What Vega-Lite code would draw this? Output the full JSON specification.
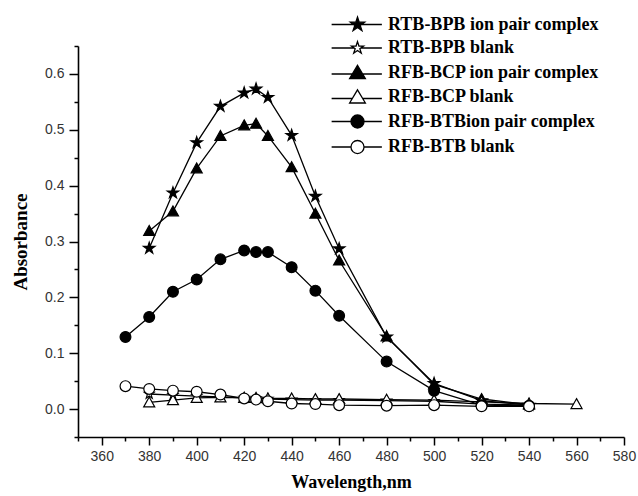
{
  "$schema": "https://vega.github.io/schema/vega-lite/v6.json",
  "width": 546,
  "height": 391,
  "autosize": "none",
  "padding": {"left": 78, "top": 46, "right": 14, "bottom": 59},
  "background": "white",
  "config": {"view": {"stroke": null}},
  "data": {"values": [
    {"Series": "RTB-BPB ion pair complex", "Wavelength": 380, "Absorbance": 0.288},
    {"Series": "RTB-BPB ion pair complex", "Wavelength": 390, "Absorbance": 0.387},
    {"Series": "RTB-BPB ion pair complex", "Wavelength": 400, "Absorbance": 0.477},
    {"Series": "RTB-BPB ion pair complex", "Wavelength": 410, "Absorbance": 0.542},
    {"Series": "RTB-BPB ion pair complex", "Wavelength": 420, "Absorbance": 0.566},
    {"Series": "RTB-BPB ion pair complex", "Wavelength": 425, "Absorbance": 0.573},
    {"Series": "RTB-BPB ion pair complex", "Wavelength": 430, "Absorbance": 0.558},
    {"Series": "RTB-BPB ion pair complex", "Wavelength": 440, "Absorbance": 0.490},
    {"Series": "RTB-BPB ion pair complex", "Wavelength": 450, "Absorbance": 0.381},
    {"Series": "RTB-BPB ion pair complex", "Wavelength": 460, "Absorbance": 0.287},
    {"Series": "RTB-BPB ion pair complex", "Wavelength": 480, "Absorbance": 0.129},
    {"Series": "RTB-BPB ion pair complex", "Wavelength": 500, "Absorbance": 0.046},
    {"Series": "RTB-BPB ion pair complex", "Wavelength": 520, "Absorbance": 0.015},
    {"Series": "RTB-BPB ion pair complex", "Wavelength": 540, "Absorbance": 0.007},
    {"Series": "RTB-BPB blank", "Wavelength": 380, "Absorbance": 0.027},
    {"Series": "RTB-BPB blank", "Wavelength": 390, "Absorbance": 0.025},
    {"Series": "RTB-BPB blank", "Wavelength": 400, "Absorbance": 0.023},
    {"Series": "RTB-BPB blank", "Wavelength": 410, "Absorbance": 0.022},
    {"Series": "RTB-BPB blank", "Wavelength": 420, "Absorbance": 0.020},
    {"Series": "RTB-BPB blank", "Wavelength": 425, "Absorbance": 0.019},
    {"Series": "RTB-BPB blank", "Wavelength": 430, "Absorbance": 0.018},
    {"Series": "RTB-BPB blank", "Wavelength": 440, "Absorbance": 0.017},
    {"Series": "RTB-BPB blank", "Wavelength": 450, "Absorbance": 0.016},
    {"Series": "RTB-BPB blank", "Wavelength": 460, "Absorbance": 0.016},
    {"Series": "RTB-BPB blank", "Wavelength": 480, "Absorbance": 0.015},
    {"Series": "RTB-BPB blank", "Wavelength": 500, "Absorbance": 0.014},
    {"Series": "RTB-BPB blank", "Wavelength": 520, "Absorbance": 0.009},
    {"Series": "RTB-BPB blank", "Wavelength": 540, "Absorbance": 0.007},
    {"Series": "RFB-BCP ion pair complex", "Wavelength": 380, "Absorbance": 0.319},
    {"Series": "RFB-BCP ion pair complex", "Wavelength": 390, "Absorbance": 0.354},
    {"Series": "RFB-BCP ion pair complex", "Wavelength": 400, "Absorbance": 0.431},
    {"Series": "RFB-BCP ion pair complex", "Wavelength": 410, "Absorbance": 0.489},
    {"Series": "RFB-BCP ion pair complex", "Wavelength": 420, "Absorbance": 0.508},
    {"Series": "RFB-BCP ion pair complex", "Wavelength": 425, "Absorbance": 0.511},
    {"Series": "RFB-BCP ion pair complex", "Wavelength": 430, "Absorbance": 0.489},
    {"Series": "RFB-BCP ion pair complex", "Wavelength": 440, "Absorbance": 0.433},
    {"Series": "RFB-BCP ion pair complex", "Wavelength": 450, "Absorbance": 0.350},
    {"Series": "RFB-BCP ion pair complex", "Wavelength": 460, "Absorbance": 0.266},
    {"Series": "RFB-BCP ion pair complex", "Wavelength": 480, "Absorbance": 0.130},
    {"Series": "RFB-BCP ion pair complex", "Wavelength": 500, "Absorbance": 0.044},
    {"Series": "RFB-BCP ion pair complex", "Wavelength": 520, "Absorbance": 0.018},
    {"Series": "RFB-BCP ion pair complex", "Wavelength": 540, "Absorbance": 0.008},
    {"Series": "RFB-BCP blank", "Wavelength": 380, "Absorbance": 0.012},
    {"Series": "RFB-BCP blank", "Wavelength": 390, "Absorbance": 0.016},
    {"Series": "RFB-BCP blank", "Wavelength": 400, "Absorbance": 0.020},
    {"Series": "RFB-BCP blank", "Wavelength": 410, "Absorbance": 0.021},
    {"Series": "RFB-BCP blank", "Wavelength": 420, "Absorbance": 0.020},
    {"Series": "RFB-BCP blank", "Wavelength": 425, "Absorbance": 0.020},
    {"Series": "RFB-BCP blank", "Wavelength": 430, "Absorbance": 0.019},
    {"Series": "RFB-BCP blank", "Wavelength": 440, "Absorbance": 0.019},
    {"Series": "RFB-BCP blank", "Wavelength": 450, "Absorbance": 0.018},
    {"Series": "RFB-BCP blank", "Wavelength": 460, "Absorbance": 0.018},
    {"Series": "RFB-BCP blank", "Wavelength": 480, "Absorbance": 0.017},
    {"Series": "RFB-BCP blank", "Wavelength": 500, "Absorbance": 0.016},
    {"Series": "RFB-BCP blank", "Wavelength": 520, "Absorbance": 0.013},
    {"Series": "RFB-BCP blank", "Wavelength": 540, "Absorbance": 0.010},
    {"Series": "RFB-BCP blank", "Wavelength": 560, "Absorbance": 0.009},
    {"Series": "RFB-BTBion pair complex", "Wavelength": 370, "Absorbance": 0.129},
    {"Series": "RFB-BTBion pair complex", "Wavelength": 380, "Absorbance": 0.165},
    {"Series": "RFB-BTBion pair complex", "Wavelength": 390, "Absorbance": 0.210},
    {"Series": "RFB-BTBion pair complex", "Wavelength": 400, "Absorbance": 0.232},
    {"Series": "RFB-BTBion pair complex", "Wavelength": 410, "Absorbance": 0.268},
    {"Series": "RFB-BTBion pair complex", "Wavelength": 420, "Absorbance": 0.284},
    {"Series": "RFB-BTBion pair complex", "Wavelength": 425, "Absorbance": 0.281},
    {"Series": "RFB-BTBion pair complex", "Wavelength": 430, "Absorbance": 0.281},
    {"Series": "RFB-BTBion pair complex", "Wavelength": 440, "Absorbance": 0.254},
    {"Series": "RFB-BTBion pair complex", "Wavelength": 450, "Absorbance": 0.212},
    {"Series": "RFB-BTBion pair complex", "Wavelength": 460, "Absorbance": 0.167},
    {"Series": "RFB-BTBion pair complex", "Wavelength": 480, "Absorbance": 0.085},
    {"Series": "RFB-BTBion pair complex", "Wavelength": 500, "Absorbance": 0.033},
    {"Series": "RFB-BTBion pair complex", "Wavelength": 520, "Absorbance": 0.007},
    {"Series": "RFB-BTBion pair complex", "Wavelength": 540, "Absorbance": 0.006},
    {"Series": "RFB-BTB blank", "Wavelength": 370, "Absorbance": 0.041},
    {"Series": "RFB-BTB blank", "Wavelength": 380, "Absorbance": 0.036},
    {"Series": "RFB-BTB blank", "Wavelength": 390, "Absorbance": 0.033},
    {"Series": "RFB-BTB blank", "Wavelength": 400, "Absorbance": 0.031},
    {"Series": "RFB-BTB blank", "Wavelength": 410, "Absorbance": 0.026},
    {"Series": "RFB-BTB blank", "Wavelength": 420, "Absorbance": 0.019},
    {"Series": "RFB-BTB blank", "Wavelength": 425, "Absorbance": 0.017},
    {"Series": "RFB-BTB blank", "Wavelength": 430, "Absorbance": 0.014},
    {"Series": "RFB-BTB blank", "Wavelength": 440, "Absorbance": 0.010},
    {"Series": "RFB-BTB blank", "Wavelength": 450, "Absorbance": 0.009},
    {"Series": "RFB-BTB blank", "Wavelength": 460, "Absorbance": 0.007},
    {"Series": "RFB-BTB blank", "Wavelength": 480, "Absorbance": 0.006},
    {"Series": "RFB-BTB blank", "Wavelength": 500, "Absorbance": 0.007},
    {"Series": "RFB-BTB blank", "Wavelength": 520, "Absorbance": 0.005},
    {"Series": "RFB-BTB blank", "Wavelength": 540, "Absorbance": 0.005}
  ]},
  "encoding": {
    "x": {
      "field": "Wavelength", "type": "quantitative",
      "scale": {"domain": [350, 580], "nice": false, "zero": false},
      "axis": {
        "title": "Wavelength,nm",
        "values": [350,360,370,380,390,400,410,420,430,440,450,460,470,480,490,500,510,520,530,540,550,560,570,580],
        "labelExpr": "datum.value % 20 === 0 ? datum.label : ''",
        "grid": false,
        "domainColor": "black", "domainWidth": 1.6,
        "tickColor": "black", "tickWidth": 1.5,
        "tickSize": {"condition": {"test": "datum.value % 20 === 0", "value": 8}, "value": 4},
        "labelFont": "Liberation Sans", "labelFontSize": 14, "labelColor": "#333333",
        "labelPadding": 4, "labelFlush": false,
        "titleFont": "Liberation Serif", "titleFontWeight": "bold", "titleFontSize": 18, "titleColor": "black",
        "titlePadding": 10
      }
    },
    "y": {
      "field": "Absorbance", "type": "quantitative",
      "scale": {"domain": [-0.05, 0.65], "nice": false, "zero": false},
      "axis": {
        "title": "Absorbance",
        "values": [-0.05,0,0.05,0.1,0.15,0.2,0.25,0.3,0.35,0.4,0.45,0.5,0.55,0.6,0.65],
        "format": ".1f",
        "labelExpr": "abs(round(datum.value*100)) % 10 === 0 ? datum.label : ''",
        "grid": false,
        "domainColor": "black", "domainWidth": 1.6,
        "tickColor": "black", "tickWidth": 1.5,
        "tickSize": {"condition": {"test": "abs(round(datum.value*100)) % 10 === 0", "value": 9}, "value": 4},
        "labelFont": "Liberation Sans", "labelFontSize": 14, "labelColor": "#333333",
        "labelPadding": 5, "labelFlush": false,
        "titleFont": "Liberation Serif", "titleFontWeight": "bold", "titleFontSize": 19, "titleColor": "black",
        "titlePadding": 14
      }
    }
  },
  "layer": [
    {
      "mark": {"type": "line", "color": "black", "strokeWidth": 1.3},
      "encoding": {"detail": {"field": "Series"}}
    },
    {
      "mark": {"type": "point", "filled": true, "stroke": "black", "strokeWidth": 1.2, "opacity": 1, "size": 144},
      "encoding": {
        "shape": {
          "field": "Series", "type": "nominal", "legend": null,
          "scale": {
            "domain": ["RTB-BPB ion pair complex","RTB-BPB blank","RFB-BCP ion pair complex","RFB-BCP blank","RFB-BTBion pair complex","RFB-BTB blank"],
            "range": [
              "M0,-1L0.225,-0.309L0.951,-0.309L0.363,0.118L0.588,0.809L0,0.382L-0.588,0.809L-0.363,0.118L-0.951,-0.309L-0.225,-0.309Z",
              "M0,-0.85L0.191,-0.263L0.808,-0.263L0.309,0.1L0.5,0.688L0,0.325L-0.5,0.688L-0.309,0.1L-0.808,-0.263L-0.191,-0.263Z",
              "M0,-0.9L0.92,0.75L-0.92,0.75Z",
              "M0,-0.9L0.92,0.75L-0.92,0.75Z",
              "M0.9,0A0.9,0.9,0,1,1,-0.9,0A0.9,0.9,0,1,1,0.9,0Z",
              "M0.9,0A0.9,0.9,0,1,1,-0.9,0A0.9,0.9,0,1,1,0.9,0Z"
            ]
          }
        },
        "fill": {
          "field": "Series", "type": "nominal", "legend": null,
          "scale": {
            "domain": ["RTB-BPB ion pair complex","RTB-BPB blank","RFB-BCP ion pair complex","RFB-BCP blank","RFB-BTBion pair complex","RFB-BTB blank"],
            "range": ["black","white","black","white","black","white"]
          }
        }
      }
    },
    {
      "transform": [{"filter": "false"}],
      "mark": {"type": "point", "filled": false, "opacity": 1, "strokeWidth": 1.3},
      "encoding": {
        "stroke": {
          "field": "Series", "type": "nominal",
          "scale": {
            "domain": ["RTB-BPB ion pair complex","RTB-BPB blank","RFB-BCP ion pair complex","RFB-BCP blank","RFB-BTBion pair complex","RFB-BTB blank"],
            "range": ["black","black","black","black","black","black"]
          },
          "legend": {
            "title": null,
            "orient": "none",
            "legendX": 270.5,
            "legendY": -30.5,
            "symbolSize": 225,
            "symbolStrokeWidth": 1.3,
            "labelFont": "Liberation Serif",
            "labelFontWeight": "bold",
            "labelFontSize": 18,
            "labelColor": "black",
            "labelOffset": 21.5,
            "labelLimit": 400,
            "rowPadding": 5.5,
            "padding": 0
          }
        },
        "shape": {
          "field": "Series", "type": "nominal",
          "scale": {
            "domain": ["RTB-BPB ion pair complex","RTB-BPB blank","RFB-BCP ion pair complex","RFB-BCP blank","RFB-BTBion pair complex","RFB-BTB blank"],
            "range": [
              "M-3.45,0H-0.5M0.5,0H3.25M0,-1L0.225,-0.309L0.951,-0.309L0.363,0.118L0.588,0.809L0,0.382L-0.588,0.809L-0.363,0.118L-0.951,-0.309L-0.225,-0.309Z",
              "M-3.45,0H-0.45M0.45,0H3.25M0,-0.85L0.191,-0.263L0.808,-0.263L0.309,0.1L0.5,0.688L0,0.325L-0.5,0.688L-0.309,0.1L-0.808,-0.263L-0.191,-0.263Z",
              "M-3.45,0.2H-0.69M0.69,0.2H3.25M0,-0.95L1.05,0.8L-1.05,0.8Z",
              "M-3.45,0.2H-0.69M0.69,0.2H3.25M0,-0.95L1.05,0.8L-1.05,0.8Z",
              "M-3.45,0H-0.87M0.87,0H3.25M0.87,0A0.87,0.87,0,1,1,-0.87,0A0.87,0.87,0,1,1,0.87,0Z",
              "M-3.45,0H-0.87M0.87,0H3.25M0.87,0A0.87,0.87,0,1,1,-0.87,0A0.87,0.87,0,1,1,0.87,0Z"
            ]
          },
          "legend": {
            "title": null,
            "orient": "none",
            "legendX": 270.5,
            "legendY": -30.5,
            "symbolSize": 225,
            "symbolStrokeWidth": 1.3,
            "labelFont": "Liberation Serif",
            "labelFontWeight": "bold",
            "labelFontSize": 18,
            "labelColor": "black",
            "labelOffset": 21.5,
            "labelLimit": 400,
            "rowPadding": 5.5,
            "padding": 0
          }
        },
        "fill": {
          "field": "Series", "type": "nominal",
          "scale": {
            "domain": ["RTB-BPB ion pair complex","RTB-BPB blank","RFB-BCP ion pair complex","RFB-BCP blank","RFB-BTBion pair complex","RFB-BTB blank"],
            "range": ["black","white","black","white","black","white"]
          },
          "legend": {
            "title": null,
            "orient": "none",
            "legendX": 270.5,
            "legendY": -30.5,
            "symbolSize": 225,
            "symbolStrokeWidth": 1.3,
            "labelFont": "Liberation Serif",
            "labelFontWeight": "bold",
            "labelFontSize": 18,
            "labelColor": "black",
            "labelOffset": 21.5,
            "labelLimit": 400,
            "rowPadding": 5.5,
            "padding": 0
          }
        }
      }
    }
  ],
  "resolve": {"scale": {"shape": "independent", "fill": "independent", "stroke": "independent"}}
}
